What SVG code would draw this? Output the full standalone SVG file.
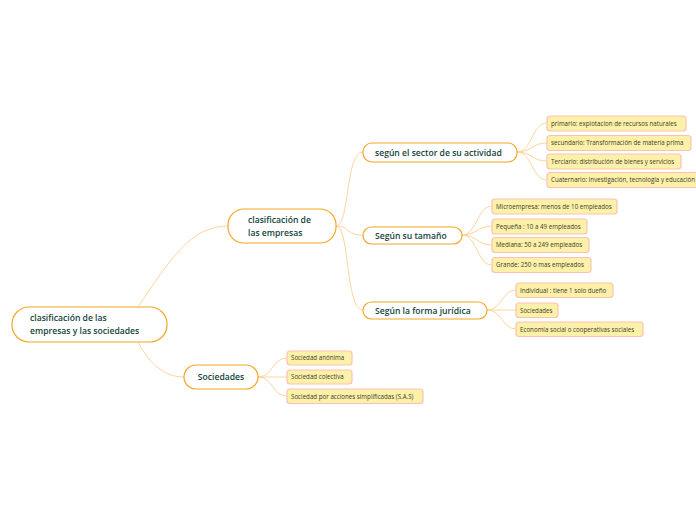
<svg xmlns="http://www.w3.org/2000/svg" width="696" height="520" viewBox="0 0 696 520">
<style>
.node rect{fill:#ffffff;stroke:#f5a623;stroke-width:1.2}
.node text{font-family:"Open Sans","Noto Sans",sans-serif;font-weight:600;font-size:8.6px;fill:#14433a}
.leaf rect{fill:#fdf1a9;stroke:#f9c3b4;stroke-width:1.2}
.leaf text{font-family:"Open Sans","Noto Sans",sans-serif;font-size:6.2px;fill:#3a3a2a}
#connectors path{fill:none;stroke:#fcd59e;stroke-width:1}
</style>
<rect width="696" height="520" fill="#ffffff"/>
<g id="connectors">
<path d="M138,307 C170,260 190,226 228,226"/>
<path d="M138,342 C150,365 165,377 184,377"/>
<path d="M336,226 C350,226 345,152 363,152"/>
<path d="M336,226 C350,226 345,235 363,235"/>
<path d="M336,226 C350,226 345,310 363,310"/>
<path d="M517,152 C532,152 532,123 547,123"/>
<path d="M517,152 C532,152 532,143 547,143"/>
<path d="M517,152 C532,152 532,161 547,161"/>
<path d="M517,152 C532,152 532,180 547,180"/>
<path d="M462,235 C477,235 477,206 492,206"/>
<path d="M462,235 C477,235 477,226 492,226"/>
<path d="M462,235 C477,235 477,245 492,245"/>
<path d="M462,235 C477,235 477,265 492,265"/>
<path d="M487,310 C502,310 502,290 516,290"/>
<path d="M487,310 C502,310 502,310 516,310"/>
<path d="M487,310 C502,310 502,329 516,329"/>
<path d="M258,377 C273,377 272,358 287,358"/>
<path d="M258,377 C273,377 272,377 287,377"/>
<path d="M258,377 C273,377 272,396 287,396"/>
</g>
<g id="root" class="node"><rect x="12" y="307" width="155" height="35" rx="17"/><text x="30" y="321">clasificación de las</text><text x="30" y="334">empresas y las sociedades</text></g>
<g id="empresas" class="node"><rect x="228" y="209" width="108" height="34" rx="16"/><text x="248" y="223">clasificación de</text><text x="248" y="236">las empresas</text></g>
<g id="sociedades" class="node"><rect x="184" y="365" width="74" height="24" rx="12"/><text x="221" y="380" text-anchor="middle">Sociedades</text></g>
<g id="sector" class="node"><rect x="363" y="143" width="154" height="19" rx="9"/><text x="375" y="155.5">según el sector de su actividad</text></g>
<g id="tamano" class="node"><rect x="363" y="227" width="99" height="17" rx="8.5"/><text x="375" y="238.5">Según su tamaño</text></g>
<g id="forma" class="node"><rect x="363" y="302" width="124" height="17" rx="8.5"/><text x="375" y="313.5">Según la forma jurídica</text></g>
<g id="l1" class="leaf"><rect x="547" y="116" width="139" height="15" rx="3"/><text x="551" y="125.7">primario:  explotacion de recursos naturales</text></g>
<g id="l2" class="leaf"><rect x="547" y="135.5" width="144" height="15" rx="3"/><text x="551" y="145.2">secundario: Transformación de materia prima</text></g>
<g id="l3" class="leaf"><rect x="547" y="154" width="134" height="15" rx="3"/><text x="551" y="163.7">Terciario: distribución de bienes y servicios</text></g>
<g id="l4" class="leaf"><rect x="547" y="172.5" width="160" height="15" rx="3"/><text x="551" y="182.2">Cuaternario: Investigación, tecnología y educación</text></g>
<g id="t1" class="leaf"><rect x="492" y="199" width="125" height="15" rx="3"/><text x="496" y="208.7">Microempresa: menos de 10 empleados</text></g>
<g id="t2" class="leaf"><rect x="492" y="219" width="95" height="15" rx="3"/><text x="496" y="228.7">Pequeña : 10 a 49 empleados</text></g>
<g id="t3" class="leaf"><rect x="492" y="237.5" width="97" height="15" rx="3"/><text x="496" y="247.2">Mediana: 50 a 249 empleados</text></g>
<g id="t4" class="leaf"><rect x="492" y="257.5" width="99" height="15" rx="3"/><text x="496" y="267.2">Grande: 250 o mas empleados</text></g>
<g id="f1" class="leaf"><rect x="516" y="283" width="97" height="14.5" rx="3"/><text x="520" y="292.6">Individual : tiene 1 solo dueño</text></g>
<g id="f2" class="leaf"><rect x="516" y="303" width="42" height="14.5" rx="3"/><text x="520" y="312.6">Sociedades</text></g>
<g id="f3" class="leaf"><rect x="516" y="322" width="127" height="14.5" rx="3"/><text x="520" y="331.6">Economía social o cooperativas sociales</text></g>
<g id="s1" class="leaf"><rect x="287" y="351" width="65" height="14" rx="3"/><text x="291" y="360.3">Sociedad anónima</text></g>
<g id="s2" class="leaf"><rect x="287" y="370" width="65" height="14" rx="3"/><text x="291" y="379.3">Sociedad colectiva</text></g>
<g id="s3" class="leaf"><rect x="287" y="389" width="136" height="14.5" rx="3"/><text x="291" y="398.6">Sociedad por acciones simplificadas (S.A.S)</text></g>
</svg>
